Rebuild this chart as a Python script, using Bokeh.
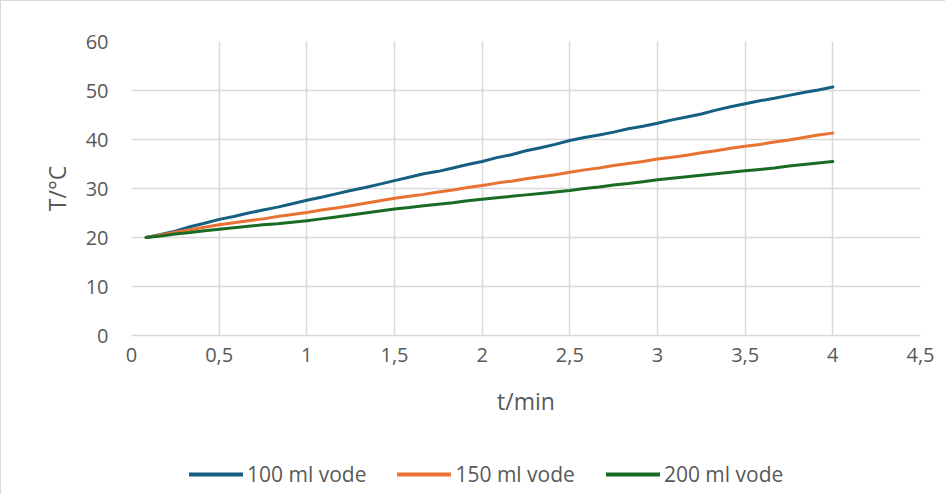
from bokeh.plotting import figure
from bokeh.models import Range1d, FixedTicker, Legend, LegendItem
from bokeh.layouts import column
from bokeh.embed import file_html
from bokeh.resources import INLINE

t_min = [k / 12 for k in range(1, 49)]
v100 = [20.0, 20.6, 21.3, 22.2, 22.9, 23.7, 24.3, 25.0, 25.6, 26.2, 26.9, 27.6,
        28.2, 28.9, 29.6, 30.2, 30.9, 31.6, 32.3, 33.0, 33.5, 34.2, 34.9, 35.5,
        36.3, 36.9, 37.7, 38.3, 39.0, 39.8, 40.4, 40.9, 41.5, 42.2, 42.7, 43.3,
        44.0, 44.6, 45.2, 46.0, 46.7, 47.3, 47.9, 48.4, 49.0, 49.6, 50.1, 50.7]
v150 = [20.0, 20.5, 21.1, 21.6, 22.1, 22.6, 23.0, 23.4, 23.8, 24.3, 24.7, 25.1,
        25.6, 26.0, 26.5, 27.0, 27.5, 28.0, 28.4, 28.8, 29.3, 29.7, 30.2, 30.6,
        31.1, 31.5, 32.0, 32.4, 32.8, 33.3, 33.8, 34.2, 34.7, 35.1, 35.5, 36.0,
        36.4, 36.8, 37.3, 37.7, 38.2, 38.6, 39.0, 39.5, 39.9, 40.4, 40.9, 41.3]
v200 = [20.0, 20.3, 20.7, 21.0, 21.4, 21.7, 22.0, 22.3, 22.6, 22.8, 23.1, 23.4,
        23.8, 24.2, 24.6, 25.0, 25.4, 25.8, 26.1, 26.5, 26.8, 27.1, 27.5, 27.8,
        28.1, 28.4, 28.7, 29.0, 29.3, 29.6, 30.0, 30.3, 30.7, 31.0, 31.4, 31.8,
        32.1, 32.4, 32.7, 33.0, 33.3, 33.6, 33.9, 34.2, 34.6, 34.9, 35.2, 35.5]
series_names = ["100 ml vode", "150 ml vode", "200 ml vode"]
x_ticks = [0, 0.5, 1, 1.5, 2, 2.5, 3, 3.5, 4, 4.5]
x_tick_labels = ["0", "0,5", "1", "1,5", "2", "2,5", "3", "3,5", "4", "4,5"]
y_ticks = [0, 10, 20, 30, 40, 50, 60]

colors = ["#156082", "#E97132", "#196B24"]
FONT = "Open Sans"
TXT = "#595959"
GRID = "#d9d9d9"
series = [v100, v150, v200]

p = figure(frame_width=788, frame_height=293, output_backend="svg", toolbar_location=None,
           x_range=Range1d(0, 4.5), y_range=Range1d(0, 60),
           min_border_left=130, min_border_right=26, min_border_top=40,
           min_border_bottom=0)
p.styles = {"border-top": "1px solid #d9d9d9", "border-left": "1px solid #d9d9d9"}
p.outline_line_color = None

for vals, c in zip(series, colors):
    p.line(t_min, vals, line_color=c, line_width=3, line_cap="round", line_join="round")

p.xaxis.ticker = FixedTicker(ticks=x_ticks)
p.xaxis.major_label_overrides = {k: v for k, v in zip(x_ticks, x_tick_labels)}
p.yaxis.ticker = FixedTicker(ticks=y_ticks)

for ax in (p.xaxis[0], p.yaxis[0]):
    ax.major_tick_line_color = None
    ax.minor_tick_line_color = None
    ax.major_label_text_font = FONT
    ax.major_label_text_font_size = "20px"
    ax.major_label_text_color = TXT
    ax.axis_label_text_font = FONT
    ax.axis_label_text_font_size = "23px"
    ax.axis_label_text_color = TXT
    ax.axis_label_text_font_style = "normal"

p.xaxis.axis_line_color = GRID
p.xaxis.axis_line_width = 1.5
p.yaxis.axis_line_color = None
p.xaxis.axis_label = "t/min"
p.yaxis.axis_label = "T/°C"
p.xaxis.major_label_standoff = 6
p.xaxis.axis_label_standoff = 20
p.yaxis.major_label_standoff = 17
p.yaxis.axis_label_standoff = 10

p.xgrid.grid_line_color = GRID
p.ygrid.grid_line_color = GRID
p.xgrid.grid_line_width = 1.5
p.ygrid.grid_line_width = 1.5

# legend holder: same series, drawn outside its visible range so only the legend shows
lf = figure(width=945, height=76, output_backend="svg", toolbar_location=None,
            x_range=Range1d(100, 101), y_range=Range1d(100, 101),
            min_border_left=0, min_border_right=0, min_border_top=0, min_border_bottom=0)
lf.styles = {"border-left": "1px solid #d9d9d9"}
lf.axis.visible = False
lf.grid.visible = False
lf.outline_line_color = None
leg_renderers = []
for vals, c in zip(series, colors):
    r = lf.line(t_min, vals, line_color=c, line_width=4, line_cap="round")
    leg_renderers.append(r)

legend = Legend(items=[LegendItem(label=n, renderers=[r]) for n, r in zip(series_names, leg_renderers)],
                orientation="horizontal", location=(58, 6))
legend.label_text_font = FONT
legend.label_text_font_size = "21px"
legend.label_text_color = TXT
legend.glyph_width = 54
legend.label_standoff = 4
legend.spacing = 31
legend.border_line_color = None
legend.background_fill_alpha = 0
legend.margin = 0
legend.padding = 4
lf.add_layout(legend, "center")

layout = column(p, lf, spacing=0)
open("out.html", "w").write(file_html(layout, INLINE))
